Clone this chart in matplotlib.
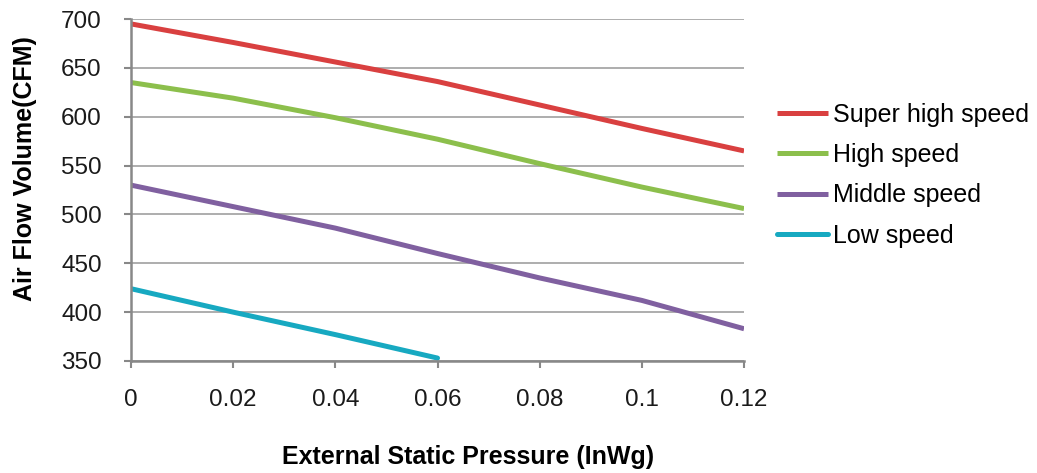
import matplotlib
matplotlib.use("Agg")
import matplotlib.pyplot as plt

plt.rcParams['font.family'] = ['Liberation Sans', 'DejaVu Sans']

# 数据
pressure = [0, 0.02, 0.04, 0.06, 0.08, 0.1, 0.12]
super_high = [695, 676, 656, 636, 612, 588, 565]
high = [635, 619, 599, 577, 552, 528, 506]
middle = [530, 508, 486, 460, 435, 412, 383]
low_pressure = [0, 0.02, 0.04, 0.06]
low = [424, 400, 377, 353]

series_names = ["Super high speed", "High speed", "Middle speed", "Low speed"]
colors = ["#D94040", "#8CBF4C", "#8060A0", "#17A9C1"]

x_ticks = [0, 0.02, 0.04, 0.06, 0.08, 0.1, 0.12]
x_tick_labels = ["0", "0.02", "0.04", "0.06", "0.08", "0.1", "0.12"]
y_ticks = [350, 400, 450, 500, 550, 600, 650, 700]

fig = plt.figure(figsize=(10.37, 4.73), dpi=100)
ax = fig.add_axes([0.1263, 0.2368, 0.5912, 0.723])

lw = 3.6
ax.plot(pressure, super_high, color=colors[0], lw=lw, label=series_names[0], solid_capstyle="butt")
ax.plot(pressure, high, color=colors[1], lw=lw, label=series_names[1], solid_capstyle="butt")
ax.plot(pressure, middle, color=colors[2], lw=lw, label=series_names[2], solid_capstyle="butt")
ax.plot(low_pressure, low, color=colors[3], lw=lw, label=series_names[3], solid_capstyle="round")

ax.set_xlim(0, 0.12)
ax.set_ylim(350, 700)
ax.set_xticks(x_ticks)
ax.set_xticklabels(x_tick_labels)
ax.set_yticks(y_ticks)

ax.grid(axis="y", color="#A0A0A0", lw=1.2)
ax.set_axisbelow(True)
for s in ["top", "right"]:
    ax.spines[s].set_visible(False)
for s in ["left", "bottom"]:
    ax.spines[s].set_color("#888888")
    ax.spines[s].set_linewidth(1.8)

ax.tick_params(axis="both", colors="#888888", length=5, width=1.5, labelsize=17.5,
               labelcolor="#1a1a1a")
ax.tick_params(axis="x", pad=15)
ax.tick_params(axis="y", pad=16)

ax.set_xlabel("External Static Pressure (InWg)", fontsize=18, fontweight="bold",
              labelpad=25, x=0.55)
ax.set_ylabel("Air Flow Volume(CFM)", fontsize=18, fontweight="bold",
              labelpad=17, y=0.563)

ax.legend(loc="center left", bbox_to_anchor=(1.054, 0.543), frameon=False, fontsize=18,
          handlelength=2.05, handletextpad=0.2, labelspacing=0.65, borderaxespad=0,
          borderpad=0)

fig.savefig("out.png", dpi=100)
